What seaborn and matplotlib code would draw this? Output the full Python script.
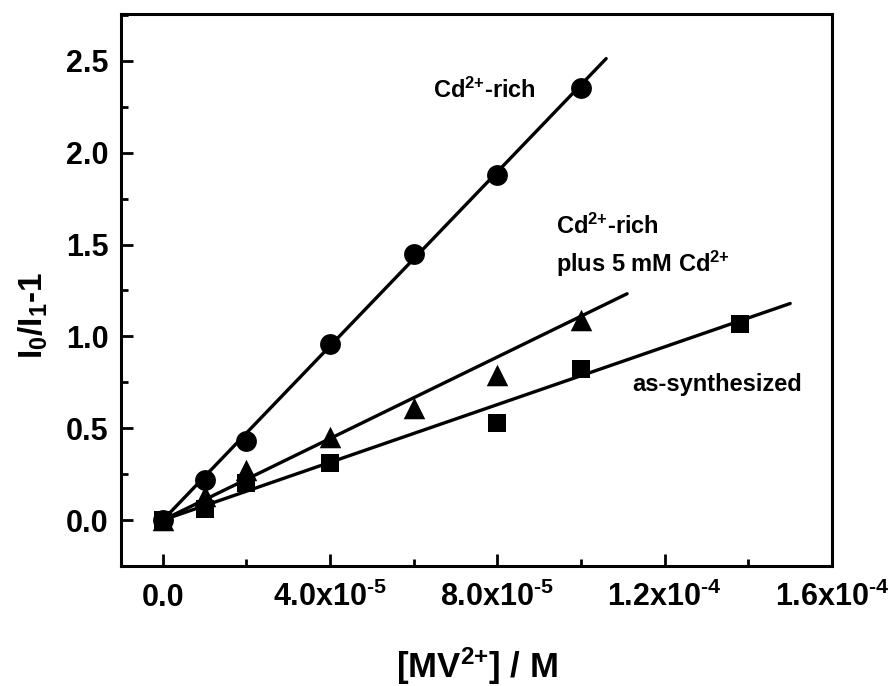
import numpy as np
import pandas as pd
import matplotlib
matplotlib.use("Agg")
import matplotlib.pyplot as plt
import seaborn as sns
from matplotlib.ticker import FixedLocator, FixedFormatter, MultipleLocator

# Quenching data: I0/I1 - 1 versus methyl viologen concentration
mv_rich = [0.0, 1e-5, 2e-5, 4e-5, 6e-5, 8e-5, 1e-4]
q_rich = [0.0, 0.22, 0.43, 0.96, 1.45, 1.88, 2.35]

mv_plus = [0.0, 1e-5, 2e-5, 4e-5, 6e-5, 8e-5, 1e-4]
q_plus = [0.0, 0.13, 0.27, 0.45, 0.61, 0.79, 1.09]

mv_as = [0.0, 1e-5, 2e-5, 4e-5, 8e-5, 1e-4, 1.38e-4]
q_as = [0.0, 0.06, 0.20, 0.31, 0.53, 0.82, 1.07]

# Stern-Volmer slopes (M^-1) of the fitted lines and their end points
sv_slopes = [2.37e4, 1.11e4, 7.86e3]
fit_ends = [1.06e-4, 1.11e-4, 1.50e-4]
series_names = ["rich", "plus", "as"]

xtick_values = [0.0, 4e-5, 8e-5, 1.2e-4, 1.6e-4]
xtick_labels = ["0.0", r"4.0x10$^{\text{-5}}$", r"8.0x10$^{\text{-5}}$",
                r"1.2x10$^{\text{-4}}$", r"1.6x10$^{\text{-4}}$"]
ytick_values = [0.0, 0.5, 1.0, 1.5, 2.0, 2.5]
ytick_labels = ["0.0", "0.5", "1.0", "1.5", "2.0", "2.5"]

sns.set_theme(style="ticks")
plt.rcParams["font.family"] = ["Liberation Sans", "DejaVu Sans"]
plt.rcParams["font.weight"] = "bold"
plt.rcParams["text.color"] = "black"
plt.rcParams["axes.labelcolor"] = "black"
plt.rcParams["xtick.color"] = "black"
plt.rcParams["ytick.color"] = "black"
plt.rcParams["mathtext.fontset"] = "custom"
plt.rcParams["mathtext.rm"] = "Liberation Sans:bold"
plt.rcParams["mathtext.it"] = "Liberation Sans:bold"
plt.rcParams["mathtext.bf"] = "Liberation Sans:bold"
plt.rcParams["mathtext.sf"] = "Liberation Sans:bold"
plt.rcParams["mathtext.default"] = "rm"

fig = plt.figure(figsize=(8.92, 6.86), dpi=100)
ax = fig.add_axes([121 / 892, 1 - 566 / 686, 711 / 892, 552 / 686])

# Fitted lines
line_rows = []
for name, k, xe in zip(series_names, sv_slopes, fit_ends):
    for xv in (0.0, xe):
        line_rows.append({"x": xv, "y": k * xv, "series": name})
lines_df = pd.DataFrame(line_rows)
sns.lineplot(data=lines_df, x="x", y="y", units="series", estimator=None,
             color="black", linewidth=2.4, ax=ax, legend=False, sort=False)

# Measured points
pts = pd.concat([
    pd.DataFrame({"x": mv_rich, "y": q_rich, "series": "rich"}),
    pd.DataFrame({"x": mv_plus, "y": q_plus, "series": "plus"}),
    pd.DataFrame({"x": mv_as, "y": q_as, "series": "as"}),
])
marker_map = {"rich": "o", "plus": "^", "as": "s"}
size_map = {"rich": 15, "plus": 15.5, "as": 12.5}
for name in series_names:
    sub = pts[pts["series"] == name]
    sns.scatterplot(data=sub, x="x", y="y", marker=marker_map[name],
                    s=size_map[name] ** 2, color="black", edgecolor="black",
                    linewidth=0, ax=ax, legend=False, zorder=3)

ax.set_xlim(-1.0e-5, 1.6e-4)
ax.set_ylim(-0.25, 2.755)

ax.xaxis.set_major_locator(FixedLocator(xtick_values))
ax.xaxis.set_major_formatter(FixedFormatter(xtick_labels))
ax.xaxis.set_minor_locator(MultipleLocator(2e-5))
ax.yaxis.set_major_locator(FixedLocator(ytick_values))
ax.yaxis.set_major_formatter(FixedFormatter(ytick_labels))
ax.yaxis.set_minor_locator(MultipleLocator(0.25))

for sp in ax.spines.values():
    sp.set_linewidth(2.2)
    sp.set_color("black")

ax.tick_params(which="both", direction="in", color="black", width=2.0,
               top=False, right=False)
ax.tick_params(which="major", length=8.5)
ax.tick_params(which="minor", length=5)
ax.tick_params(axis="y", which="major", labelsize=22, pad=9, labelcolor="black")
ax.tick_params(axis="x", which="major", labelsize=22, pad=29, labelcolor="black")
for lab in ax.get_xticklabels():
    lab.set_verticalalignment("baseline")
    lab.set_fontweight("bold")
for lab in ax.get_yticklabels():
    lab.set_fontweight("bold")

ax.set_xlabel(r"[MV$^{\text{2+}}$] / M", fontsize=25, fontweight="bold", color="black")
ax.set_ylabel("I$_0$/I$_1$-1", fontsize=24, fontweight="bold", color="black")
ax.xaxis.set_label_coords(0.5, (566 - 678) / 552)
ax.xaxis.label.set_verticalalignment("baseline")
ax.yaxis.set_label_coords((50 - 121) / 711, (566 - 316) / 552)

ann_kw = dict(fontsize=17, fontweight="bold", ha="left", va="baseline", color="black")
ax.text(6.47e-5, 2.30, r"Cd$^{\text{2+}}$-rich", **ann_kw)
ax.text(9.39e-5, 1.56, r"Cd$^{\text{2+}}$-rich", **ann_kw)
ax.text(9.39e-5, 1.35, r"plus 5 mM Cd$^{\text{2+}}$", **ann_kw)
ax.text(1.123e-4, 0.70, "as-synthesized", **ann_kw)

fig.savefig("out.png", dpi=100, facecolor="white")
